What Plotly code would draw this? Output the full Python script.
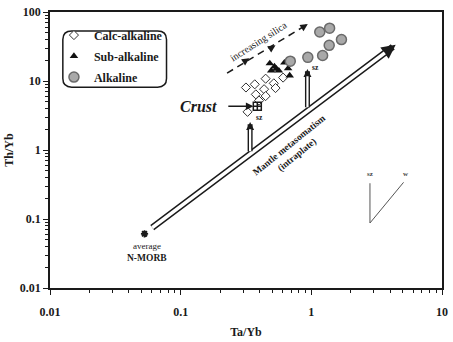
import numpy as np
import plotly.graph_objects as go

# ---- sample ratios -------------------------------------------------------
calc_ta_yb = [0.316, 0.369, 0.447, 0.516, 0.608, 0.435, 0.532, 0.398, 0.447, 0.325, 0.376]
calc_th_yb = [8.05, 8.95, 10.8, 9.25, 11.2, 7.6, 7.9, 5.2, 6.05, 3.57, 6.4]

sub_ta_yb = [0.481, 0.522, 0.493, 0.564, 0.622, 0.664, 0.683, 0.540]
sub_th_yb = [18.0, 16.2, 14.1, 14.1, 18.4, 15.2, 12.0, 15.0]

alk_ta_yb = [1.16, 1.38, 1.70, 1.37, 1.22, 0.94, 0.69]
alk_th_yb = [51.3, 58.3, 39.8, 32.9, 23.4, 22.0, 19.4]

crust_ta_yb = [0.386]
crust_th_yb = [4.3]

nmorb_ta_yb = [0.0529]
nmorb_th_yb = [0.061]

# ---- reference vectors and trends ----------------------------------------
metasom_tail = (0.059, 0.0723)     # mantle metasomatism trend, start
metasom_tip = (4.42, 33.6)         # mantle metasomatism trend, head
metasom_core_end = (3.65, 25.6)

sz_arrows = [  # (Ta/Yb, tail Th/Yb, tip Th/Yb, core end Th/Yb)
    (0.34, 0.91, 2.54, 2.0),
    (0.934, 3.95, 14.9, 11.7),
]
sz_labels = [(0.40, 2.94), (1.085, 15.7)]

silica_line_x = [0.2265, 0.95]
silica_line_y = [13.0, 67.7]
silica_heads_x = [0.336, 0.532, 0.94]
silica_heads_y = [21.3, 32.9, 66.8]

crust_arrow_tail = (0.2255, 4.3)
crust_arrow_tip = (0.36, 4.3)

vector_x = [2.81, 2.81, 5.08]
vector_y = [0.33, 0.0875, 0.34]

x_ticks = [0.01, 0.1, 1, 10]
x_tick_text = ["0.01", "0.1", "1", "10"]
y_ticks = [0.01, 0.1, 1, 10, 100]
y_tick_text = ["0.01", "0.1", "1", "10", "100"]

SERIF = "Liberation Serif, Times New Roman, serif"
INK = "#1a1a1a"

W, H = 453, 342
M_L, M_R, M_T, M_B = 50, 6, 5, 47
PW, PH = W - M_L - M_R, H - M_T - M_B


def L(v):
    return float(np.log10(v))


def px_to_paper(px, py):
    return (px - M_L) / PW, (H - M_B - py) / PH


fig = go.Figure()

# sz / w vectors
fig.add_trace(go.Scatter(x=vector_x, y=vector_y, mode="lines",
                         line=dict(color="#555555", width=1), showlegend=False, hoverinfo="skip"))

# increasing silica dashed trend
fig.add_trace(go.Scatter(x=silica_line_x, y=silica_line_y, mode="lines",
                         line=dict(color=INK, width=1.5, dash="7px,5px"),
                         showlegend=False, hoverinfo="skip"))

fig.add_trace(go.Scatter(
    x=calc_ta_yb, y=calc_th_yb, mode="markers", name="Calc-alkaline", legendgroup="a",
    marker=dict(symbol="diamond", size=7, color="white", line=dict(color="#333333", width=1))))
fig.add_trace(go.Scatter(
    x=sub_ta_yb, y=sub_th_yb, mode="markers", name="Sub-alkaline", legendgroup="b",
    marker=dict(symbol="triangle-up", size=7.5, color="#111111", line=dict(width=0))))
fig.add_trace(go.Scatter(
    x=alk_ta_yb, y=alk_th_yb, mode="markers", name="Alkaline", legendgroup="c",
    marker=dict(symbol="circle", size=10, color="#a9a9a9", line=dict(color="#6a6a6a", width=1.5))))

fig.add_trace(go.Scatter(
    x=crust_ta_yb, y=crust_th_yb, mode="markers", showlegend=False,
    marker=dict(symbol="square-cross-open", size=8, color=INK, line=dict(color=INK, width=1.5))))
fig.add_trace(go.Scatter(
    x=nmorb_ta_yb, y=nmorb_th_yb, mode="markers", showlegend=False,
    marker=dict(symbol="asterisk-open", size=6, color=INK, line=dict(color=INK, width=1.8))))

anns = []


def arrow(tip, tail, width, color, head, size=1.0):
    return dict(x=L(tip[0]), y=L(tip[1]), ax=L(tail[0]), ay=L(tail[1]),
                xref="x", yref="y", axref="x", ayref="y", text="", showarrow=True,
                arrowhead=head, arrowsize=size, arrowwidth=width, arrowcolor=color)


# double-lined mantle metasomatism arrow
anns.append(arrow(metasom_tip, metasom_tail, 6.5, INK, 2, 0.43))
anns.append(arrow(metasom_core_end, metasom_tail, 3.6, "white", 0))

# double-lined subduction arrows
for xv, y0, y1, yc in sz_arrows:
    anns.append(arrow((xv, y1), (xv, y0), 5, INK, 2, 0.32))
    anns.append(arrow((xv, yc), (xv, y0), 2.2, "white", 0))

# crust arrow
anns.append(arrow(crust_arrow_tip, crust_arrow_tail, 1.5, INK, 2, 1.0))

# heads along the silica trend
ang = np.deg2rad(32.3)
for hx, hy in zip(silica_heads_x, silica_heads_y):
    anns.append(dict(x=L(hx), y=L(hy), xref="x", yref="y", text="", showarrow=True,
                     ax=-8 * np.cos(ang), ay=8 * np.sin(ang), arrowhead=2, arrowsize=1.0,
                     arrowwidth=1.5, arrowcolor=INK))


def label(x, y, text, size=10, angle=0, bold=False, italic=False, color=INK):
    t = text
    if bold:
        t = "<b>" + t + "</b>"
    if italic:
        t = "<i>" + t + "</i>"
    return dict(x=L(x), y=L(y), xref="x", yref="y", text=t, showarrow=False,
                textangle=angle, font=dict(family=SERIF, size=size, color=color))


anns.append(label(0.392, 37.6, "increasing silica", size=10, angle=-32.5))
anns.append(label(0.72, 1.0, "Mantle metasomatism<br>(intraplate)", size=9.5, angle=-39, bold=True))
anns.append(label(0.136, 4.3, "Crust", size=16, bold=True, italic=True))
for sx, sy in sz_labels:
    anns.append(label(sx, sy, "sz", size=7.5, bold=True))
anns.append(label(0.0551, 0.0405, "average", size=9))
anns.append(label(0.0555, 0.0276, "N-MORB", size=9.5, bold=True))
anns.append(label(2.81, 0.443, "sz", size=7, bold=True, color="#444"))
anns.append(label(5.32, 0.443, "w", size=7, bold=True, color="#444"))

# rounded frame around the legend
bx0, by0 = px_to_paper(63, 25)
bx1, by1 = px_to_paper(168, 84)
rx, ry = 9 / PW, 9 / PH
path = (f"M{bx0 + rx},{by0} L{bx1 - rx},{by0} Q{bx1},{by0} {bx1},{by0 - ry} "
        f"L{bx1},{by1 + ry} Q{bx1},{by1} {bx1 - rx},{by1} "
        f"L{bx0 + rx},{by1} Q{bx0},{by1} {bx0},{by1 + ry} "
        f"L{bx0},{by0 - ry} Q{bx0},{by0} {bx0 + rx},{by0} Z")

fig.update_layout(
    width=W, height=H,
    margin=dict(l=M_L, r=M_R, t=M_T, b=M_B),
    paper_bgcolor="white", plot_bgcolor="white",
    font=dict(family=SERIF, size=12, color=INK),
    annotations=anns,
    shapes=[dict(type="path", path=path, xref="paper", yref="paper",
                 line=dict(color=INK, width=1.5), fillcolor="rgba(0,0,0,0)")],
    legend=dict(x=(54 - M_L) / PW, y=(H - M_B - 14) / PH, xanchor="left", yanchor="top",
                bgcolor="rgba(0,0,0,0)", borderwidth=0, tracegroupgap=2,
                font=dict(family=SERIF, size=12, color=INK, weight="bold")),
    showlegend=True,
)

axis_common = dict(
    type="log", showline=True, linecolor=INK, linewidth=1.5, mirror=True,
    ticks="outside", ticklen=5, tickwidth=1.2, tickcolor=INK, showgrid=False, zeroline=False,
    tickfont=dict(family=SERIF, size=12, color=INK, weight="bold"),
)

x_minor = [m * d for d in x_ticks[:-1] for m in range(2, 10)]
y_minor = [m * d for d in y_ticks[:-1] for m in range(2, 10)]

fig.update_xaxes(
    **axis_common, range=[-2, 1], tickvals=x_ticks, ticktext=x_tick_text,
    minor=dict(tickvals=x_minor, ticks="outside", ticklen=3, tickcolor=INK, tickwidth=1),
    ticklabelstandoff=7,
    title=dict(text="<b>Ta/Yb</b>", font=dict(family=SERIF, size=12), standoff=9),
)
fig.update_yaxes(
    **axis_common, range=[-2, 2], tickvals=y_ticks, ticktext=y_tick_text,
    minor=dict(tickvals=y_minor, ticks="outside", ticklen=3, tickcolor=INK, tickwidth=1),
    title=dict(text="<b>Th/Yb</b>", font=dict(family=SERIF, size=12), standoff=4),
)

fig.write_html("out.html")
